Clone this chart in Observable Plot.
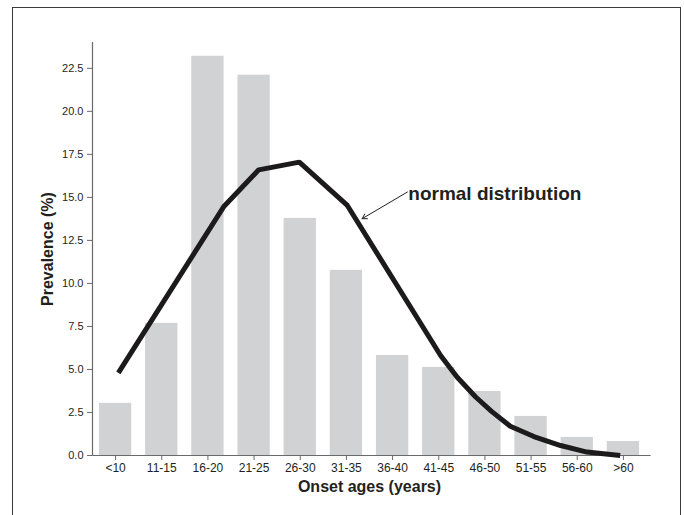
<!DOCTYPE html>
<html>
<head>
<meta charset="utf-8">
<script src="https://cdn.jsdelivr.net/npm/d3@7"></script>
<script src="https://cdn.jsdelivr.net/npm/@observablehq/plot@0.6"></script>
<style>
  body { margin: 0; background: #fff; }
  #wrap { position: relative; width: 684px; height: 515px; overflow: hidden; }
  #frame { position: absolute; left: 12px; top: 7px; width: 669px; height: 560px;
           border: 1.5px solid #3a3a3a; border-bottom: none; box-sizing: border-box; }
  #chart { position: absolute; left: 0; top: 0; }
</style>
</head>
<body>
<div id="wrap"><div id="frame"></div><div id="chart"></div></div>
<script>
// Age-of-onset categories
const categories = ["<10", "11-15", "16-20", "21-25", "26-30", "31-35", "36-40", "41-45", "46-50", "51-55", "56-60", ">60"];
// Observed prevalence (%) per category (bars)
const prevalence = [3.03, 7.68, 23.2, 22.1, 13.78, 10.76, 5.81, 5.12, 3.72, 2.27, 1.05, 0.81];
// Normal-distribution curve: position along the category axis and value (%)
const curvePos = [0.06, 2.34, 3.10, 3.98, 5.02, 7.04, 7.40, 7.80, 8.15, 8.55, 9.06, 9.64, 10.21, 10.93];
const curveVal = [4.8, 14.45, 16.6, 17.05, 14.53, 5.81, 4.55, 3.4, 2.55, 1.7, 1.1, 0.58, 0.2, 0.0];
// Y tick values
const yTicks = [0, 2.5, 5, 7.5, 10, 12.5, 15, 17.5, 20, 22.5];
// Annotation
const annotationText = "normal distribution";
const annotationAt = {x: 6.34, y: 15.23};
const arrowFrom = {x: 6.32, y: 15.31};
const arrowTo = {x: 5.34, y: 13.76};

const bars = categories.map((c, i) => ({i, c, v: prevalence[i]}));
const curve = curvePos.map((p, k) => ({p, v: curveVal[k]}));

const font = "'Liberation Sans', Arial, Helvetica, sans-serif";
const axisGray = "#6a6a6a";
const textColor = "#231f20";

const chart = Plot.plot({
  width: 684,
  height: 515,
  marginLeft: 92,
  marginRight: 38,
  marginTop: 42,
  marginBottom: 60,
  style: {fontFamily: font, background: "transparent", color: textColor},
  x: {type: "linear", domain: [-0.5, categories.length - 0.5]},
  y: {domain: [0, 24]},
  marks: [
    Plot.rectY(bars, {x1: d => d.i - 0.35, x2: d => d.i + 0.35, y: "v", fill: "#d1d2d4"}),
    Plot.ruleY([0], {x1: -0.5, x2: 11.6, stroke: axisGray, strokeWidth: 1}),
    Plot.ruleX([-0.5], {y1: 0, y2: 24, stroke: axisGray, strokeWidth: 1.2}),
    Plot.axisY({ticks: yTicks, tickFormat: d3.format(".1f"), tickSize: 5, tickPadding: 4,
                fontSize: 11, stroke: axisGray, fill: textColor, label: null}),
    Plot.axisX({ticks: d3.range(categories.length), tickFormat: i => categories[i],
                tickSize: 5, tickPadding: 3, fontSize: 12, stroke: axisGray, fill: textColor, label: null}),
    Plot.line(curve, {x: "p", y: "v", stroke: "#1c1a1b", strokeWidth: 5,
                      strokeLinejoin: "miter", strokeLinecap: "butt"}),
    Plot.arrow([0], {x1: () => arrowFrom.x, y1: () => arrowFrom.y, x2: () => arrowTo.x, y2: () => arrowTo.y,
                     stroke: textColor, strokeWidth: 1, headLength: 8}),
    Plot.text([annotationText], {x: annotationAt.x, y: annotationAt.y, text: d => d, textAnchor: "start",
                                 fontSize: 19, fontWeight: "bold", fill: textColor}),
    Plot.text(["Prevalence (%)"], {frameAnchor: "left", text: d => d, rotate: -90, dx: -44.5,
                                   textAnchor: "middle", lineAnchor: "middle",
                                   fontSize: 16, fontWeight: "bold", fill: textColor}),
    Plot.text(["Onset ages (years)"], {frameAnchor: "bottom", text: d => d, dy: 31,
                                       textAnchor: "middle", lineAnchor: "middle",
                                       fontSize: 16, fontWeight: "bold", fill: textColor})
  ]
});
document.getElementById("chart").appendChild(chart);
</script>
</body>
</html>
